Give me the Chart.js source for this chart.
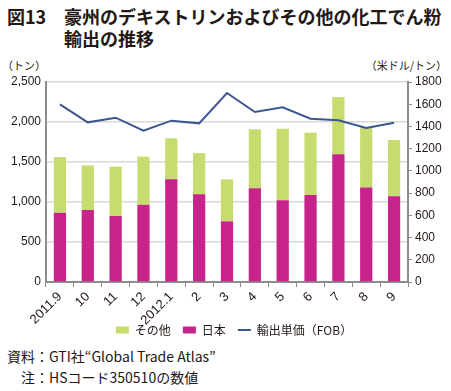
<!DOCTYPE html>
<html>
<head>
<meta charset="utf-8">
<script src="https://cdn.jsdelivr.net/npm/chart.js@4/dist/chart.umd.min.js"></script>
<style>
  html, body { margin: 0; padding: 0; background: #fff; }
  body { width: 451px; height: 391px; position: relative; overflow: hidden; font-family: "Noto Sans CJK JP", "Liberation Sans", sans-serif; color: #231815; }
  .t { position: absolute; white-space: nowrap; }
  #fig { left: 7px; top: 5px; font-size: 18px; font-weight: bold; line-height: 22px; }
  #title1 { left: 64px; top: 5px; font-size: 18px; font-weight: bold; line-height: 22px; }
  #title2 { left: 64px; top: 27px; font-size: 18px; font-weight: bold; line-height: 22px; }
  #unitL { left: 2px; top: 57px; font-size: 11px; }
  #unitR { right: 4px; top: 57px; font-size: 11px; }
  #src { left: 7px; top: 346px; font-size: 14px; }
  #note { left: 21px; top: 367px; font-size: 14px; }
  #wrap { position: absolute; left: 0; top: 0; width: 451px; height: 346px; }
</style>
</head>
<body>
<div class="t" id="fig">図13</div>
<div class="t" id="title1">豪州のデキストリンおよびその他の化工でん粉</div>
<div class="t" id="title2">輸出の推移</div>
<div class="t" id="unitL">（トン）</div>
<div class="t" id="unitR">（米ドル/トン）</div>
<div id="wrap"><canvas id="c"></canvas></div>
<div class="t" id="src">資料：GTI社“Global Trade Atlas”</div>
<div class="t" id="note">注：HSコード350510の数値</div>
<script>
const categories = ["2011.9","10","11","12","2012.1","2","3","4","5","6","7","8","9"];
const japan  = [867, 900, 825, 967, 1283, 1096, 758, 1171, 1021, 1087, 1596, 1180, 1071];
const others = [695, 558, 617, 600, 513, 516, 525, 737, 896, 780, 716, 757, 704];
const unitPrice = [1599, 1437, 1479, 1362, 1452, 1428, 1701, 1530, 1572, 1470, 1455, 1386, 1434];
const leftTicks = [0, 500, 1000, 1500, 2000, 2500];
const rightTicks = [0, 200, 400, 600, 800, 1000, 1200, 1400, 1600, 1800];

const tickFont = { family: "'Liberation Sans', Arial, sans-serif", size: 12 };
const axisColor = '#8c8c8c';

// let tick labels overflow their scale box (like the original, where rotated labels reach below the axis area)
const noLabelClip = {
  id: 'noLabelClip',
  beforeDraw(chart) {
    Object.values(chart.scales).forEach(s => { s._computeLabelArea = () => undefined; });
  }
};

new Chart(document.getElementById('c'), {
  plugins: [noLabelClip],
  data: {
    labels: categories,
    datasets: [
      { type: 'bar', label: '日本', data: japan, backgroundColor: '#c8228b', yAxisID: 'y', stack: 's', barPercentage: 0.44, categoryPercentage: 1, pointStyle: 'rect', order: 2 },
      { type: 'bar', label: 'その他', data: others, backgroundColor: '#c6dc6e', yAxisID: 'y', stack: 's', barPercentage: 0.44, categoryPercentage: 1, pointStyle: 'rect', order: 2 },
      { type: 'line', label: '輸出単価（FOB）', data: unitPrice, borderColor: '#3b5690', backgroundColor: '#3b5690', borderWidth: 2, pointRadius: 0, tension: 0, yAxisID: 'y2', pointStyle: 'line', order: 1 }
    ]
  },
  options: {
    responsive: true,
    maintainAspectRatio: false,
    animation: false,
    layout: { padding: { top: 82, left: 17, right: 0, bottom: 0 } },
    plugins: {
      tooltip: { enabled: false },
      legend: {
        position: 'bottom',
        labels: {
          usePointStyle: true,
          boxHeight: 7,
          pointStyleWidth: 13,
          padding: 12,
          color: '#231815',
          font: { family: "'Noto Sans CJK JP', sans-serif", size: 12 },
          sort: (a, b) => {
            const ord = { 'その他': 0, '日本': 1, '輸出単価（FOB）': 2 };
            return ord[a.text] - ord[b.text];
          }
        }
      }
    },
    scales: {
      x: {
        stacked: true,
        grid: { offset: true, drawOnChartArea: false, drawTicks: true, tickLength: 5, color: axisColor, lineWidth: 1 },
        border: { color: axisColor, width: 2 },
        ticks: { minRotation: 45, maxRotation: 45, color: '#231815', font: { family: "'Liberation Sans', Arial, sans-serif", size: 13 }, padding: 2 },
        afterFit: (s) => { s.height = 30; }
      },
      y: {
        stacked: true,
        position: 'left',
        min: 0, max: 2500,
        afterBuildTicks: (s) => { s.ticks = leftTicks.map(v => ({ value: v })); },
        grid: { color: '#d9d9d9', lineWidth: 1.5, drawTicks: false },
        border: { color: axisColor, width: 2 },
        ticks: { color: '#231815', font: tickFont, padding: 5, callback: (v) => v.toLocaleString('en-US') },
        afterFit: (s) => { s.width = 29; }
      },
      y2: {
        position: 'right',
        min: 0, max: 1800,
        afterBuildTicks: (s) => { s.ticks = rightTicks.map(v => ({ value: v })); },
        grid: { drawOnChartArea: false, drawTicks: true, tickLength: 4, color: axisColor },
        border: { color: axisColor, width: 2 },
        ticks: { color: '#231815', font: tickFont, padding: 3, callback: (v) => String(v) },
        afterFit: (s) => { s.width = 43; }
      }
    }
  }
});
</script>
</body>
</html>
